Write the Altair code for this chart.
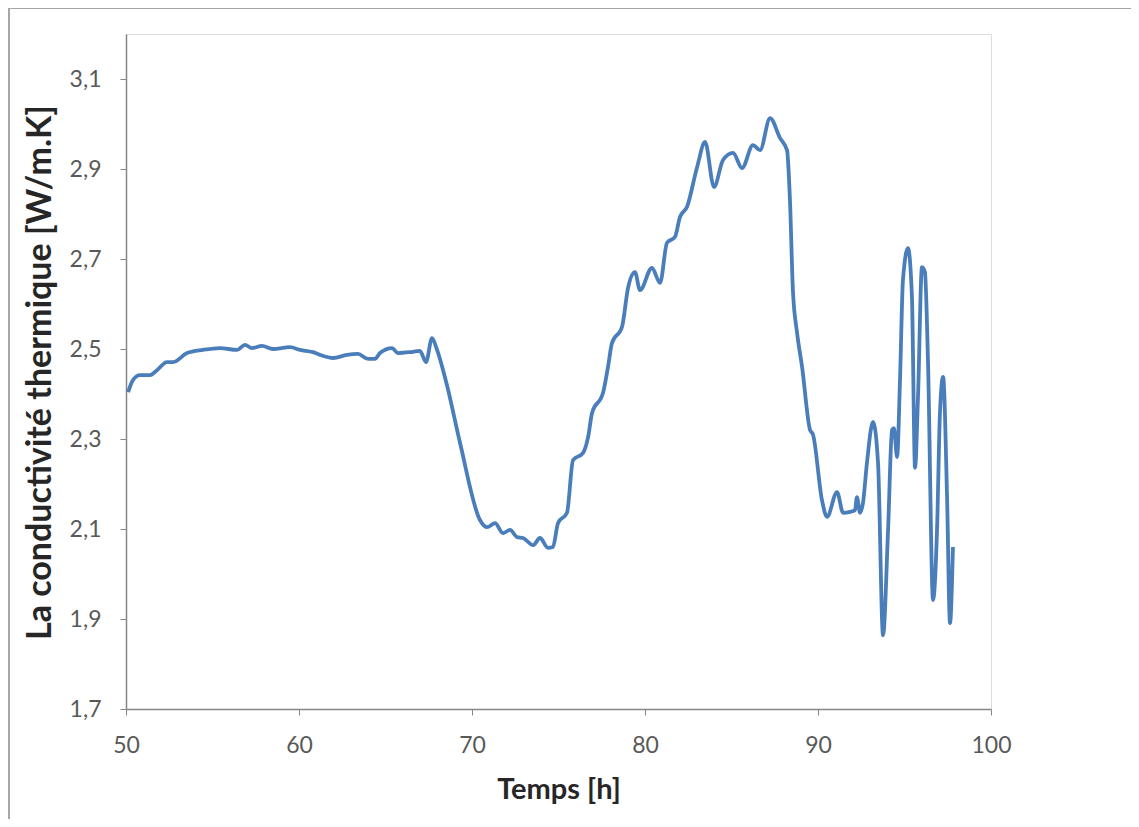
import altair as alt
import pandas as pd

hours = [50.12, 50.40, 50.81, 51.39, 51.79, 52.37, 52.72, 53.53, 54.45, 55.43,
         56.42, 56.88, 57.28, 57.86, 58.50, 59.48, 60.06, 60.81, 61.21, 61.97,
         62.77, 63.41, 63.99, 64.39, 64.68, 65.38, 65.72, 66.42, 66.99, 67.34,
         67.69, 67.98, 68.55, 69.31, 70.46, 70.87, 71.33, 71.79, 72.20, 72.60,
         72.95, 73.53, 73.93, 74.39, 74.68, 74.97, 75.49, 75.84, 76.42, 76.71,
         76.94, 77.57, 77.86, 78.09, 78.67, 79.02, 79.42, 79.71, 80.40, 80.87,
         81.27, 81.73, 82.02, 82.43, 83.01, 83.47, 83.99, 84.51, 85.09, 85.61,
         86.24, 86.65, 87.23, 87.80, 88.21, 88.38, 88.55, 88.79, 89.08, 89.54,
         89.71, 90.23, 90.52, 91.10, 91.45, 91.85, 92.14, 92.25, 92.43, 92.60,
         92.83, 93.18, 93.47, 93.76, 94.05, 94.28, 94.39, 94.57, 94.74, 94.91,
         95.20, 95.43, 95.61, 95.78, 96.01, 96.18, 96.36, 96.65, 96.88, 97.05,
         97.23, 97.46, 97.63, 97.80]

conductivity = [2.404, 2.431, 2.442, 2.442, 2.453, 2.471, 2.471, 2.491, 2.498, 2.502,
                2.498, 2.509, 2.502, 2.507, 2.500, 2.504, 2.498, 2.493, 2.487, 2.480,
                2.487, 2.489, 2.478, 2.478, 2.491, 2.502, 2.491, 2.493, 2.496, 2.471,
                2.524, 2.498, 2.420, 2.291, 2.120, 2.104, 2.113, 2.091, 2.098, 2.082,
                2.080, 2.064, 2.080, 2.058, 2.060, 2.113, 2.136, 2.253, 2.269, 2.304,
                2.358, 2.402, 2.460, 2.513, 2.549, 2.636, 2.671, 2.631, 2.680, 2.647,
                2.736, 2.749, 2.793, 2.816, 2.904, 2.960, 2.860, 2.920, 2.936, 2.902,
                2.953, 2.942, 3.013, 2.969, 2.942, 2.830, 2.630, 2.536, 2.460, 2.320,
                2.310, 2.164, 2.127, 2.182, 2.136, 2.138, 2.142, 2.171, 2.136, 2.158,
                2.247, 2.338, 2.247, 1.864, 2.098, 2.320, 2.324, 2.260, 2.431, 2.653,
                2.724, 2.616, 2.236, 2.393, 2.682, 2.671, 2.469, 1.942, 2.098, 2.358,
                2.438, 2.171, 1.891, 2.060]

x_ticks = [50, 60, 70, 80, 90, 100]
y_ticks = [1.7, 1.9, 2.1, 2.3, 2.5, 2.7, 2.9, 3.1]

df = pd.DataFrame({"h": hours, "k": conductivity})

FONT = "Lato"
AXIS_GREY = "#868686"

line = alt.Chart(df).mark_line(
    color="#4a7ebb", strokeWidth=3.8, interpolate="monotone"
).encode(
    x=alt.X("h:Q",
            scale=alt.Scale(domain=[50, 100], nice=False, zero=False),
            axis=alt.Axis(values=x_ticks, title="Temps [h]", grid=False,
                          labelFontSize=23, labelColor="#595959", labelFont=FONT,
                          labelPadding=19, labelFlush=False, tickSize=6,
                          tickColor=AXIS_GREY, domainColor=AXIS_GREY, domainWidth=1.5,
                          titleFont=FONT, titleFontSize=29, titleFontWeight="bold",
                          titleColor="#262626", titleY=80, titleBaseline="middle")),
    y=alt.Y("k:Q",
            scale=alt.Scale(domain=[1.7, 3.2], nice=False, zero=False),
            axis=alt.Axis(values=y_ticks, title="La conductivité thermique [W/m.K]",
                          grid=False,
                          labelExpr="replace(format(datum.value, '.1f'), '.', ',')",
                          labelFontSize=23, labelColor="#595959", labelFont=FONT,
                          labelPadding=19, labelFlush=False, tickSize=6,
                          tickColor=AXIS_GREY, domainColor=AXIS_GREY, domainWidth=1.5,
                          titleFont=FONT, titleFontSize=34, titleFontWeight="bold",
                          titleColor="#262626", titleX=-86, titleY=338,
                          titleBaseline="middle", titleAngle=-90)),
)

frame = alt.Chart(df).mark_rect(
    fill="transparent", stroke="#a6a6a6", strokeWidth=2
).encode(
    x=alt.value(-117), x2=alt.value(1200),
    y=alt.value(-26), y2=alt.value(1000),
)

chart = alt.layer(frame, line).properties(
    width=865, height=675,
    autosize=alt.AutoSizeParams(type="none"),
    padding={"left": 118, "top": 26, "right": 140, "bottom": 110},
).configure_view(stroke=None).configure(background="white")

chart.save("out.html", embed_options={"renderer": "svg", "actions": False})
